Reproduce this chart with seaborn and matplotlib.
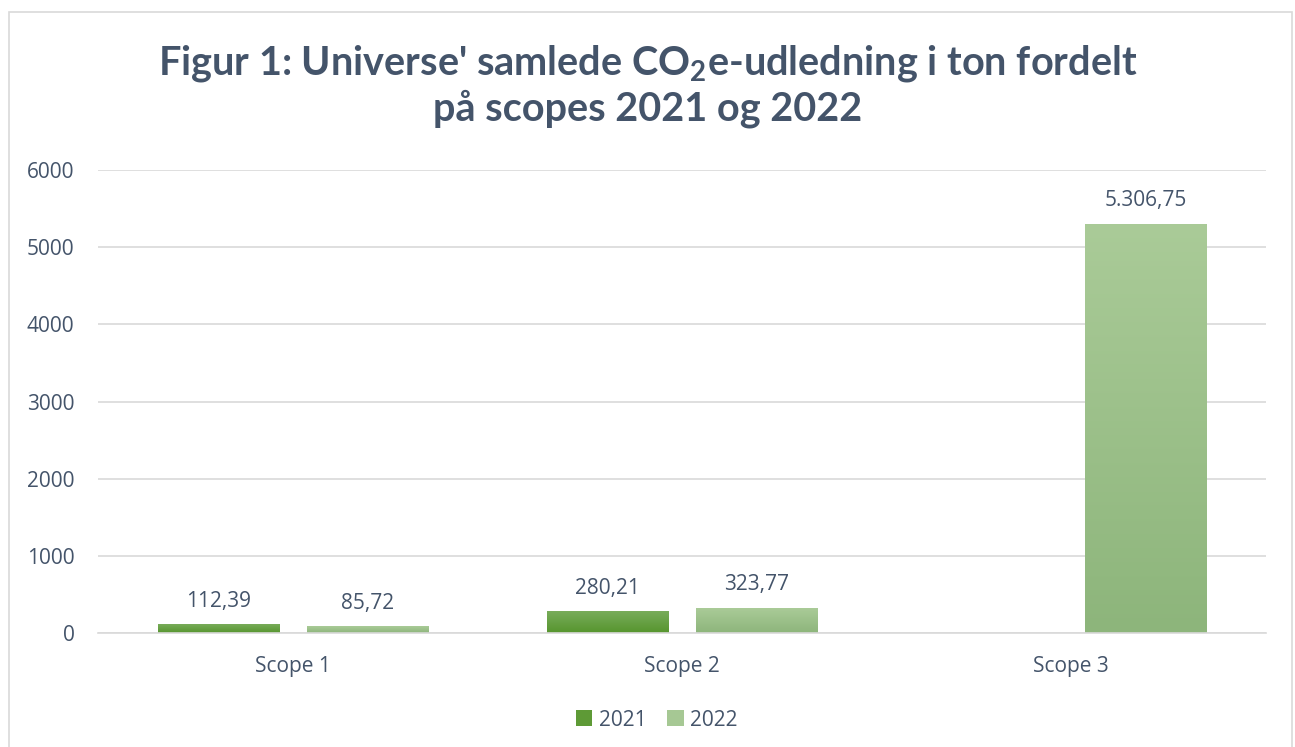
import numpy as np
import pandas as pd
import matplotlib
matplotlib.use("Agg")
import matplotlib.pyplot as plt
import seaborn as sns
from matplotlib.colors import LinearSegmentedColormap
from matplotlib.patches import Patch, Rectangle

# Data
scopes = ["Scope 1", "Scope 2", "Scope 3"]
years = ["2021", "2022"]
values_2021 = [112.39, 280.21, np.nan]
values_2022 = [85.72, 323.77, 5306.75]
y_ticks = [0, 1000, 2000, 3000, 4000, 5000, 6000]

TEXT = "#44546A"
GRID = "#D9D9D9"
# (bottom, top) gradient colours per year
gradients = {
    "2021": ("#56952E", "#78AC5A"),
    "2022": ("#8DB57B", "#AACB98"),
}
legend_colors = {"2021": "#5E9A36", "2022": "#A6C894"}


def danish(v):
    s = f"{v:,.2f}"
    return s.replace(",", "X").replace(".", ",").replace("X", ".")


def main():
    sns.set_theme(style="white")
    plt.rcParams["font.family"] = ["Open Sans", "DejaVu Sans"]
    plt.rcParams["mathtext.fontset"] = "custom"
    plt.rcParams["mathtext.rm"] = "Lato:bold"

    df = pd.DataFrame({
        "scope": scopes * 2,
        "year": ["2021"] * 3 + ["2022"] * 3,
        "value": values_2021 + values_2022,
    })

    fig = plt.figure(figsize=(12.95, 7.47), dpi=100)
    ax = fig.add_axes([0.0757, 0.1526, 0.9776 - 0.0757, 0.7724 - 0.1526])

    sns.barplot(
        data=df, x="scope", y="value", hue="year",
        hue_order=years, order=scopes,
        palette=legend_colors, width=0.766, gap=0.188,
        ax=ax, zorder=2,
    )

    # gradient fill on every bar
    for year, cont in zip(years, ax.containers):
        bottom, top = gradients[year]
        cmap = LinearSegmentedColormap.from_list(year, [bottom, top])
        grad = np.linspace(0, 1, 256).reshape(-1, 1)
        for bar in cont:
            h = bar.get_height()
            if not np.isfinite(h) or h <= 0:
                continue
            x0 = bar.get_x()
            w = bar.get_width()
            bar.set_facecolor("none")
            bar.set_edgecolor("none")
            im = ax.imshow(grad, cmap=cmap, origin="lower", aspect="auto",
                           extent=[x0, x0 + w, 0, h], zorder=2)
            im.set_clip_path(bar)
            ax.text(x0 + w / 2, h + 165, danish(h), ha="center", va="bottom",
                    fontsize=15, color=TEXT)

    ax.set_xlim(-0.5, 2.5)
    ax.set_ylim(0, 6000)
    ax.set_yticks(y_ticks)
    ax.set_yticklabels([str(t) for t in y_ticks])
    ax.set_xlabel("")
    ax.set_ylabel("")
    ax.tick_params(axis="y", length=0, pad=17, labelsize=15, labelcolor=TEXT)
    ax.tick_params(axis="x", length=0, pad=16.5, labelsize=15, labelcolor=TEXT)
    ax.yaxis.grid(True, color=GRID, linewidth=1.2, zorder=0)
    ax.set_axisbelow(True)
    for side in ["top", "right", "left"]:
        ax.spines[side].set_visible(False)
    ax.spines["bottom"].set_color(GRID)
    ax.spines["bottom"].set_linewidth(1.2)

    ax.get_legend().remove()
    handles = [Patch(facecolor=legend_colors[y], edgecolor="none", label=y) for y in years]
    fig.legend(handles=handles, loc="center", bbox_to_anchor=(0.507, 0.036),
               ncol=2, frameon=False, fontsize=15, labelcolor=TEXT,
               handlelength=0.8, handleheight=0.8, handletextpad=0.3,
               columnspacing=1.0)

    fig.text(0.5, 1 - 63 / 747, "Figur 1: Universe' samlede CO$_\\mathregular{2}$e-udledning i ton fordelt",
             ha="center", va="center", fontsize=28.5, fontweight="bold",
             color=TEXT, family="Lato")
    fig.text(0.5, 1 - 109 / 747, "på scopes 2021 og 2022",
             ha="center", va="center", fontsize=28.5, fontweight="bold",
             color=TEXT, family="Lato")

    # chart border
    fig.patches.append(Rectangle((9 / 1295, -0.01), 1283 / 1295, 1 - 12 / 747 + 0.01,
                                 transform=fig.transFigure, fill=False,
                                 edgecolor=GRID, linewidth=1.2))

    fig.savefig("out.png", dpi=100)


if __name__ == "__main__":
    main()
